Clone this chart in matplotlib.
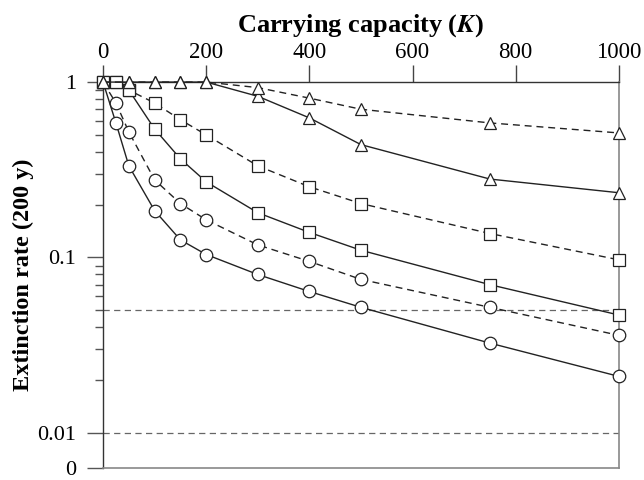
import matplotlib
matplotlib.use('Agg')
import matplotlib.pyplot as plt
import numpy as np

plt.rcParams['font.family'] = ['Liberation Serif', 'DejaVu Serif']
plt.rcParams['mathtext.fontset'] = 'stix'

# carrying capacity values
K = [0, 25, 50, 100, 150, 200, 300, 400, 500, 750, 1000]
K_tri = [0, 50, 100, 150, 200, 300, 400, 500, 750, 1000]

# extinction rates
circle_solid = [1.0, 0.585, 0.333, 0.185, 0.126, 0.104, 0.080, 0.064, 0.052, 0.0325, 0.021]
circle_dashed = [1.0, 0.76, 0.52, 0.277, 0.203, 0.164, 0.118, 0.095, 0.075, 0.052, 0.036]
square_solid = [1.0, 1.0, 0.90, 0.54, 0.365, 0.27, 0.18, 0.139, 0.11, 0.070, 0.047]
square_dashed = [1.0, 1.0, 0.90, 0.76, 0.61, 0.50, 0.333, 0.253, 0.203, 0.137, 0.097]
tri_solid = [1.0, 1.0, 1.0, 1.0, 1.0, 0.83, 0.625, 0.44, 0.28, 0.234]
tri_dashed = [1.0, 1.0, 1.0, 1.0, 1.0, 0.93, 0.81, 0.70, 0.585, 0.513]

ref_lines = [0.05, 0.01]
y_bottom = 10 ** -2.2

fig = plt.figure(figsize=(6.44, 4.8), dpi=100)
ax = fig.add_axes([0.16, 0.025, 0.801, 0.804])

dash = (0, (5, 3.5))
mk = dict(markerfacecolor='white', markeredgecolor='#222222', markeredgewidth=0.9,
          color='#222222', linewidth=1.0, markersize=9, clip_on=False, zorder=3)

for y in ref_lines:
    ax.axhline(y, color='#666666', linestyle=dash, linewidth=0.9, zorder=1)

ax.plot(K, circle_solid, marker='o', linestyle='-', markevery=slice(1, None), **mk)
ax.plot(K, circle_dashed, marker='o', linestyle=dash, markevery=slice(1, None), **mk)
ax.plot(K, square_solid, marker='s', linestyle='-', **mk)
ax.plot(K, square_dashed, marker='s', linestyle=dash, **mk)
ax.plot(K_tri, tri_solid, marker='^', linestyle='-', **mk)
ax.plot(K_tri, tri_dashed, marker='^', linestyle=dash, **mk)

ax.set_yscale('log')
ax.set_xlim(0, 1000)
ax.set_ylim(y_bottom, 1)

ax.set_yticks([y_bottom, 0.01, 0.1, 1])
ax.set_yticklabels(['0', '0.01', '0.1', '1'])
minor = [m * 0.01 for m in range(2, 10)] + [m * 0.1 for m in range(2, 10)]
ax.set_yticks(minor, minor=True)
ax.yaxis.set_minor_formatter(matplotlib.ticker.NullFormatter())

ax.set_xticks([0, 200, 400, 600, 800, 1000])
ax.set_xticklabels(['0', '200', '400', '600', '800', '1000'])
ax.xaxis.tick_top()
ax.xaxis.set_label_position('top')

ax.tick_params(axis='x', which='major', direction='out', length=12, width=1,
               color='#444444', labelsize=16.5, pad=2)
ax.tick_params(axis='y', which='major', direction='out', length=11.5, width=1,
               color='#555555', labelsize=16, pad=8)
ax.tick_params(axis='y', which='minor', direction='out', length=6, width=1,
               color='#555555')

for s in ['top', 'left']:
    ax.spines[s].set_color('#333333')
    ax.spines[s].set_linewidth(1.0)
for s in ['right', 'bottom']:
    ax.spines[s].set_color('#888888')
    ax.spines[s].set_linewidth(1.2)

ax.set_xlabel(r'Carrying capacity ($\boldsymbol{K}$)', fontsize=19, fontweight='bold', labelpad=7)
ax.set_ylabel('Extinction rate (200 y)', fontsize=17.5, fontweight='bold', labelpad=2)

fig.savefig('out.png', dpi=100)
